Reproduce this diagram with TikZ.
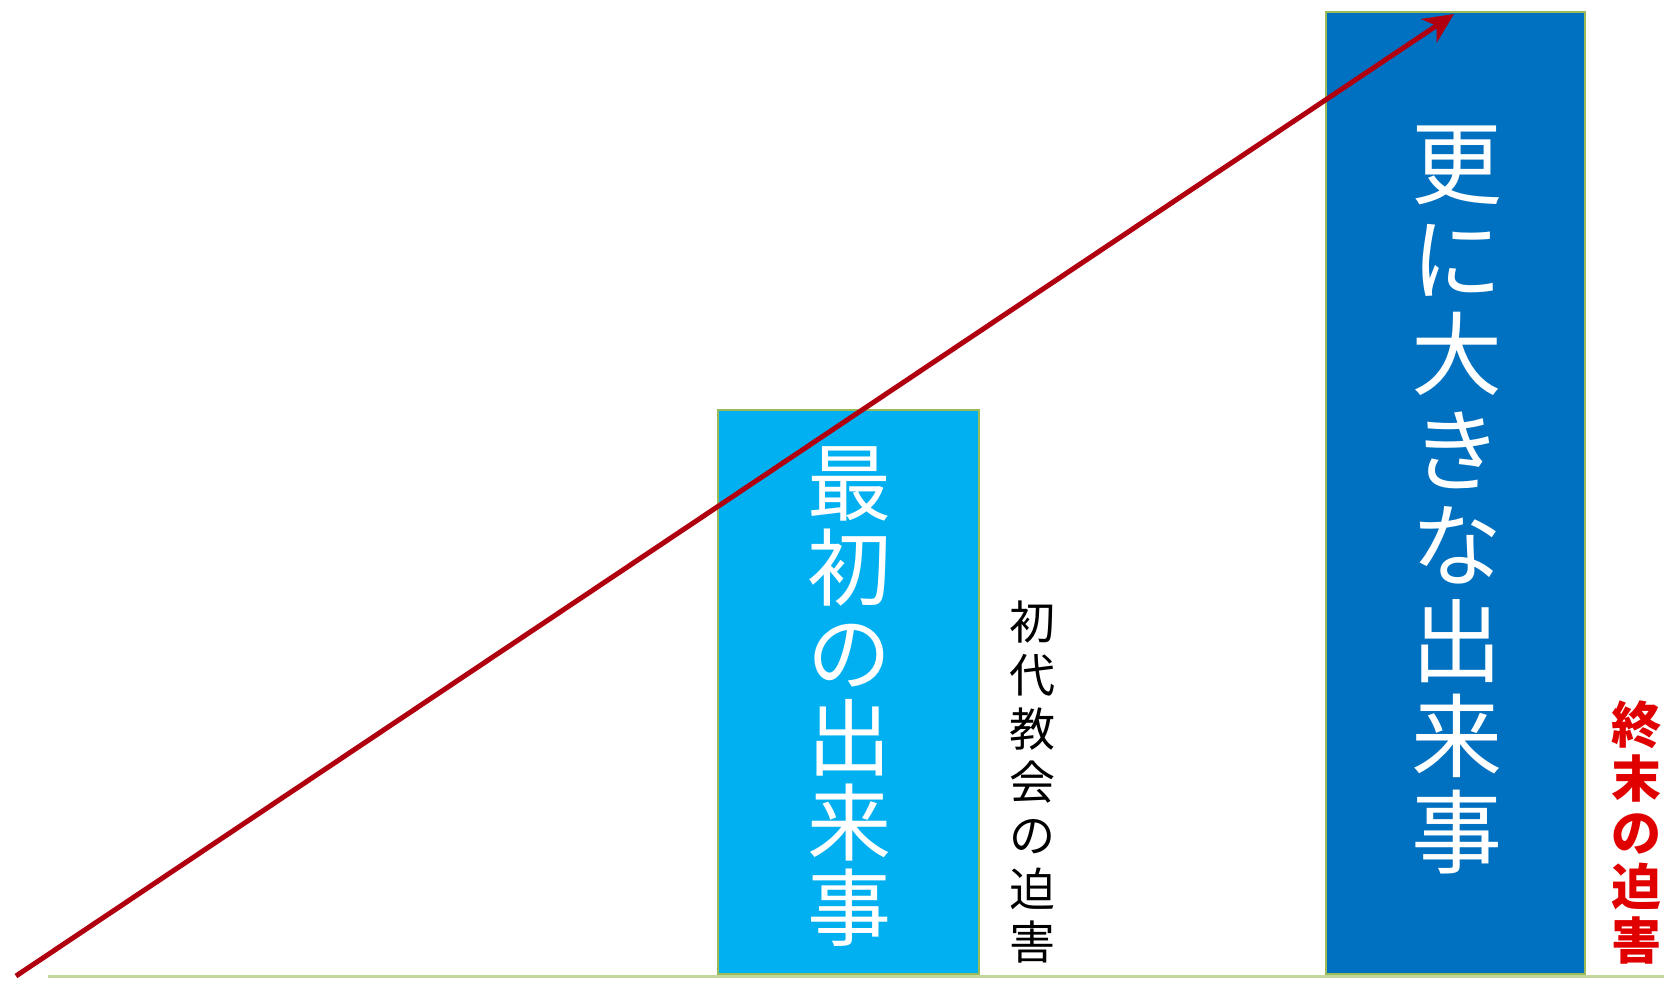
\documentclass[tikz,border=0pt]{standalone}
\usepackage{fontspec}
\setmainfont{Noto Sans CJK JP}
\usetikzlibrary{arrows.meta}
\definecolor{lightblue}{HTML}{00B0F0}
\definecolor{darkblue}{HTML}{0070C0}
\definecolor{boxedge}{HTML}{9BBB59}
\definecolor{baseolive}{HTML}{C3D69B}
\definecolor{arrowred}{HTML}{B00010}
\definecolor{textred}{HTML}{E00000}
\tikzset{
  bar/.style={draw=boxedge, line width=1.5pt},
  vtext/.style={align=center, inner sep=0pt, anchor=center},
}
\begin{document}
\begin{tikzpicture}[x=1pt,y=-1pt]
\useasboundingbox (0,0) rectangle (1664,981);
\fill[white] (0,0) rectangle (1664,981);
% bars
\draw[bar, fill=lightblue] (718,410) rectangle (979,974);
\draw[bar, fill=darkblue] (1326,12) rectangle (1585,974);
% baseline
\coordinate (b0) at (48,976);
\coordinate (b1) at (1664,976);
\draw[draw=baseolive, line width=3pt] (b0) -- (b1);
% texts
\node[vtext, text=white, font=\fontsize{84}{85}\selectfont] (t1) at (849,697)
  {最\\初\\の\\出\\来\\事};
\node[vtext, text=white, font=\fontsize{91}{95.5}\selectfont] (t2) at (1457,500)
  {更\\に\\大\\き\\な\\出\\来\\事};
\node[vtext, text=black, font=\fontsize{46}{53.4}\selectfont] (t3) at (1032,782)
  {初\\代\\教\\会\\の\\迫\\害};
\node[vtext, text=textred, font=\fontsize{50}{54}\selectfont\bfseries] (t4) at (1636,832)
  {終\\末\\の\\迫\\害};
% arrow
\coordinate (s) at (16,976);
\coordinate (e) at (1454,14);
\draw[arrowred, line width=5pt, -{Stealth[length=30pt,width=28pt,inset=9pt]}] (s) -- (e);
\end{tikzpicture}
\end{document}
